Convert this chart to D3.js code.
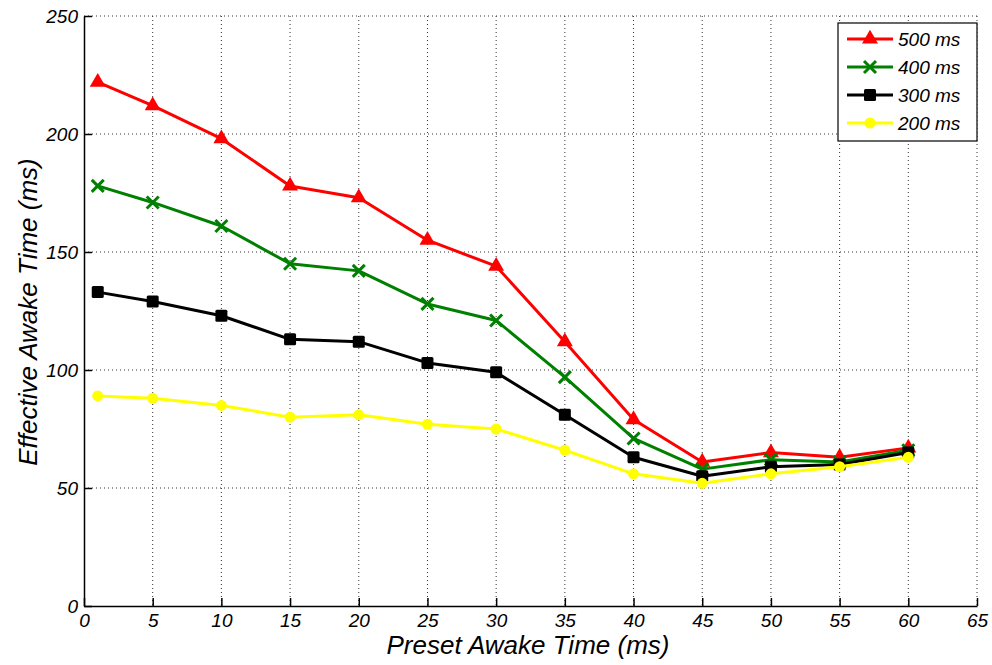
<!DOCTYPE html>
<html>
<head>
<meta charset="utf-8">
<script src="https://cdn.jsdelivr.net/npm/d3@7"></script>
<style>
  body { margin: 0; background: #fff; }
  text { font-family: "Liberation Sans", Arial, sans-serif; font-style: italic; }
</style>
</head>
<body>
<div id="wrapper"></div>
<script>
const presetTimes = [1, 5, 10, 15, 20, 25, 30, 35, 40, 45, 50, 55, 60];
const red500 = [222, 212, 198, 178, 173, 155, 144, 112, 79, 61, 65, 63, 67];
const green400 = [178, 171, 161, 145, 142, 128, 121, 97, 71, 58, 62, 61, 66];
const black300 = [133, 129, 123, 113, 112, 103, 99, 81, 63, 55, 59, 60, 65];
const yellow200 = [89, 88, 85, 80, 81, 77, 75, 66, 56, 52, 56, 59, 63];
const seriesNames = ["500 ms", "400 ms", "300 ms", "200 ms"];
const xTicks = d3.range(0, 70, 5);
const yTicks = [0, 50, 100, 150, 200, 250];

let dimensions = {
  width: 992, height: 665,
  margin: { top: 16, right: 15, bottom: 59, left: 84 },
};
dimensions.boundedWidth = dimensions.width - dimensions.margin.left - dimensions.margin.right;
dimensions.boundedHeight = dimensions.height - dimensions.margin.top - dimensions.margin.bottom;

const series = [
  { name: seriesNames[0], values: red500, color: "#ff0000", marker: "triangle" },
  { name: seriesNames[1], values: green400, color: "#008000", marker: "cross" },
  { name: seriesNames[2], values: black300, color: "#000000", marker: "square" },
  { name: seriesNames[3], values: yellow200, color: "#ffff00", marker: "circle" },
];

const wrapper = d3.select("#wrapper").append("svg")
  .attr("width", dimensions.width)
  .attr("height", dimensions.height);

const bounds = wrapper.append("g")
  .attr("transform", `translate(${dimensions.margin.left},${dimensions.margin.top})`);

const xScale = d3.scaleLinear().domain([0, 65]).range([0, dimensions.boundedWidth]);
const yScale = d3.scaleLinear().domain([0, 250]).range([dimensions.boundedHeight, 0]);

// dotted grid
bounds.append("g").selectAll("line").data(xTicks.filter(d => d > 0)).join("line")
  .attr("x1", d => xScale(d)).attr("x2", d => xScale(d))
  .attr("y1", 0).attr("y2", dimensions.boundedHeight)
  .attr("stroke", "#333").attr("stroke-width", 1).attr("stroke-dasharray", "1,3");
bounds.append("g").selectAll("line").data(yTicks.filter(d => d > 0)).join("line")
  .attr("x1", 0).attr("x2", dimensions.boundedWidth)
  .attr("y1", d => yScale(d)).attr("y2", d => yScale(d))
  .attr("stroke", "#333").attr("stroke-width", 1).attr("stroke-dasharray", "1,3");

// axes with inward ticks
const xAxis = bounds.append("g")
  .attr("transform", `translate(0,${dimensions.boundedHeight})`)
  .call(d3.axisBottom(xScale).tickValues(xTicks).tickSizeInner(-8).tickSizeOuter(0));
const yAxis = bounds.append("g")
  .call(d3.axisLeft(yScale).tickValues(yTicks).tickSizeInner(-8).tickSizeOuter(0));
[xAxis, yAxis].forEach(ax => {
  ax.select(".domain").attr("stroke", "#000").attr("stroke-width", 1.5);
  ax.selectAll(".tick line").attr("stroke", "#000").attr("stroke-width", 1.5);
  ax.selectAll("text").attr("font-size", 19).attr("fill", "#000")
    .style("font-family", '"Liberation Sans", Arial, sans-serif').style("font-style", "italic");
});
xAxis.selectAll("text").attr("y", 21).attr("dy", 0);
yAxis.selectAll("text").attr("x", -6);

// axis titles
wrapper.append("text")
  .attr("x", 528)
  .attr("y", 654)
  .attr("text-anchor", "middle").attr("font-size", 26)
  .text("Preset Awake Time (ms)");
wrapper.append("text")
  .attr("transform", "translate(37,312) rotate(-90)")
  .attr("text-anchor", "middle").attr("font-size", 26)
  .text("Effective Awake Time (ms)");

const lineGenerator = d3.line()
  .x((d, i) => xScale(presetTimes[i]))
  .y(d => yScale(d));

function drawMarker(g, type, color) {
  if (type === "triangle") {
    g.append("path").attr("d", d3.symbol(d3.symbolTriangle, 110)()).attr("fill", color);
  } else if (type === "cross") {
    g.append("path").attr("d", "M-6,-6L6,6M-6,6L6,-6")
      .attr("stroke", color).attr("stroke-width", 3).attr("fill", "none");
  } else if (type === "square") {
    g.append("rect").attr("x", -6).attr("y", -6).attr("width", 12).attr("height", 12)
      .attr("rx", 1.5).attr("fill", color);
  } else {
    g.append("circle").attr("r", 5.5).attr("fill", color);
  }
}

series.forEach(s => {
  bounds.append("path")
    .attr("d", lineGenerator(s.values))
    .attr("fill", "none")
    .attr("stroke", s.color)
    .attr("stroke-width", 3)
    .attr("stroke-linejoin", "round");
  s.values.forEach((v, i) => {
    const g = bounds.append("g")
      .attr("transform", `translate(${xScale(presetTimes[i])},${yScale(v)})`);
    drawMarker(g, s.marker, s.color);
  });
});

// legend
const legend = wrapper.append("g").attr("transform", "translate(838,23)");
legend.append("rect").attr("width", 139).attr("height", 118)
  .attr("fill", "#fff").attr("stroke", "#000").attr("stroke-width", 1.2);
series.forEach((s, i) => {
  const y = 16 + i * 28;
  legend.append("line").attr("x1", 9).attr("x2", 55).attr("y1", y).attr("y2", y)
    .attr("stroke", s.color).attr("stroke-width", 3);
  const g = legend.append("g").attr("transform", `translate(32,${y})`);
  drawMarker(g, s.marker, s.color);
  legend.append("text").attr("x", 60).attr("y", y).attr("dy", "0.36em")
    .attr("font-size", 19).text(s.name);
});
</script>
</body>
</html>
